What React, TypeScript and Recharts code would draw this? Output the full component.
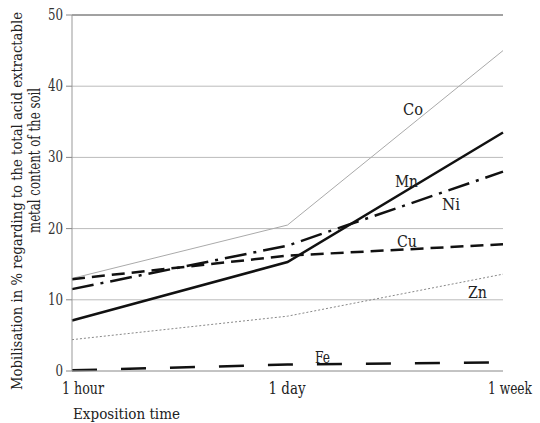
import { CartesianGrid, Line, LineChart, ReferenceLine, XAxis, YAxis } from "recharts";

const times = ["1 hour", "1 day", "1 week"];
const co = [13, 20.5, 45];
const mn = [7.1, 15.3, 33.5];
const ni = [11.5, 17.6, 28];
const cu = [12.9, 16.2, 17.8];
const zn = [4.4, 7.7, 13.6];
const fe = [0.1, 0.9, 1.2];
const yTicks = [0, 10, 20, 30, 40, 50];

const data = times.map((t, i) => ({
  t,
  co: co[i],
  mn: mn[i],
  ni: ni[i],
  cu: cu[i],
  zn: zn[i],
  fe: fe[i],
}));

const FONT = "'DejaVu Serif Condensed', 'DejaVu Serif', serif";
const INK = "#222";

// metal names written next to their curves (text box: left, baseline, width)
const curveLabels = [
  { text: "Co", x: 403, y: 115, w: 20 },
  { text: "Mn", x: 395, y: 187, w: 23 },
  { text: "Ni", x: 442, y: 210, w: 18 },
  { text: "Cu", x: 397, y: 247, w: 20 },
  { text: "Zn", x: 468, y: 298, w: 19 },
  { text: "Fe", x: 315, y: 363, w: 15 },
];

// x tick label boxes: offset from the tick and width
const timeTickBox = [
  { dx: -10, w: 42 },
  { dx: -19, w: 37 },
  { dx: -15, w: 44 },
];

function TimeTick({ x, y, payload, index }: { x?: number; y?: number; payload?: { value: string }; index?: number }) {
  const box = timeTickBox[index ?? 0];
  return (
    <text
      x={(x ?? 0) + box.dx}
      y={(y ?? 0) + 15}
      fontFamily={FONT}
      fontSize={16}
      fill={INK}
      textLength={box.w}
      lengthAdjust="spacingAndGlyphs"
    >
      {payload?.value}
    </text>
  );
}

function ValueTick({ x, y, payload }: { x?: number; y?: number; payload?: { value: number } }) {
  const label = String(payload?.value ?? "");
  return (
    <text
      x={(x ?? 0) - 1}
      y={(y ?? 0) + 5}
      textAnchor="end"
      fontFamily={FONT}
      fontSize={16}
      fill="#333"
      textLength={label.length * 7.5}
      lengthAdjust="spacingAndGlyphs"
    >
      {label}
    </text>
  );
}

export default function App() {
  return (
    <div style={{ position: "absolute", left: 0, top: 0, width: 540, height: 423, background: "#fff" }}>
      <LineChart width={540} height={423} data={data} margin={{ top: 15, right: 37, bottom: 22, left: 0 }}>
        <CartesianGrid stroke="#bbb" vertical={false} />
        <XAxis
          dataKey="t"
          height={30}
          axisLine={{ stroke: "#aaa" }}
          tickLine={false}
          tick={<TimeTick />}
          interval={0}
        />
        <YAxis
          domain={[0, 50]}
          ticks={yTicks}
          width={72}
          axisLine={{ stroke: "#999" }}
          tickLine={{ stroke: "#888" }}
          tickSize={6}
          tick={<ValueTick />}
        />
        <YAxis yAxisId="frame" orientation="right" width={0} axisLine={{ stroke: "#ccc" }} tick={false} tickLine={false} />
        <ReferenceLine y={50} stroke="#666" />
        <Line dataKey="co" stroke="#aaa" strokeWidth={1} dot={false} isAnimationActive={false} />
        <Line dataKey="zn" stroke="#888" strokeWidth={1} strokeDasharray="2 2" dot={false} isAnimationActive={false} />
        <Line dataKey="cu" stroke="#111" strokeWidth={2.5} strokeDasharray="13 7" dot={false} isAnimationActive={false} />
        <Line dataKey="ni" stroke="#111" strokeWidth={2.5} strokeDasharray="22 7 3 7" dot={false} isAnimationActive={false} />
        <Line dataKey="fe" stroke="#111" strokeWidth={2.5} strokeDasharray="25 24" dot={false} isAnimationActive={false} />
        <Line dataKey="mn" stroke="#111" strokeWidth={2.5} dot={false} isAnimationActive={false} />
      </LineChart>
      <svg width={540} height={423} style={{ position: "absolute", left: 0, top: 0, pointerEvents: "none" }}>
        {curveLabels.map((l) => (
          <text
            key={l.text}
            x={l.x}
            y={l.y}
            fontFamily={FONT}
            fontSize={16}
            fill={INK}
            textLength={l.w}
            lengthAdjust="spacingAndGlyphs"
          >
            {l.text}
          </text>
        ))}
        <text x={73} y={419} fontFamily={FONT} fontSize={15} fill={INK} textLength={107} lengthAdjust="spacingAndGlyphs">
          Exposition time
        </text>
        <text
          transform="translate(22,390) rotate(-90)"
          fontFamily={FONT}
          fontSize={15}
          fill={INK}
          textLength={378}
          lengthAdjust="spacingAndGlyphs"
        >
          Mobilisation in % regarding to the total acid extractable
        </text>
        <text
          transform="translate(40,233) rotate(-90)"
          fontFamily={FONT}
          fontSize={16}
          fill={INK}
          textLength={145}
          lengthAdjust="spacingAndGlyphs"
        >
          metal content of the soil
        </text>
      </svg>
    </div>
  );
}
